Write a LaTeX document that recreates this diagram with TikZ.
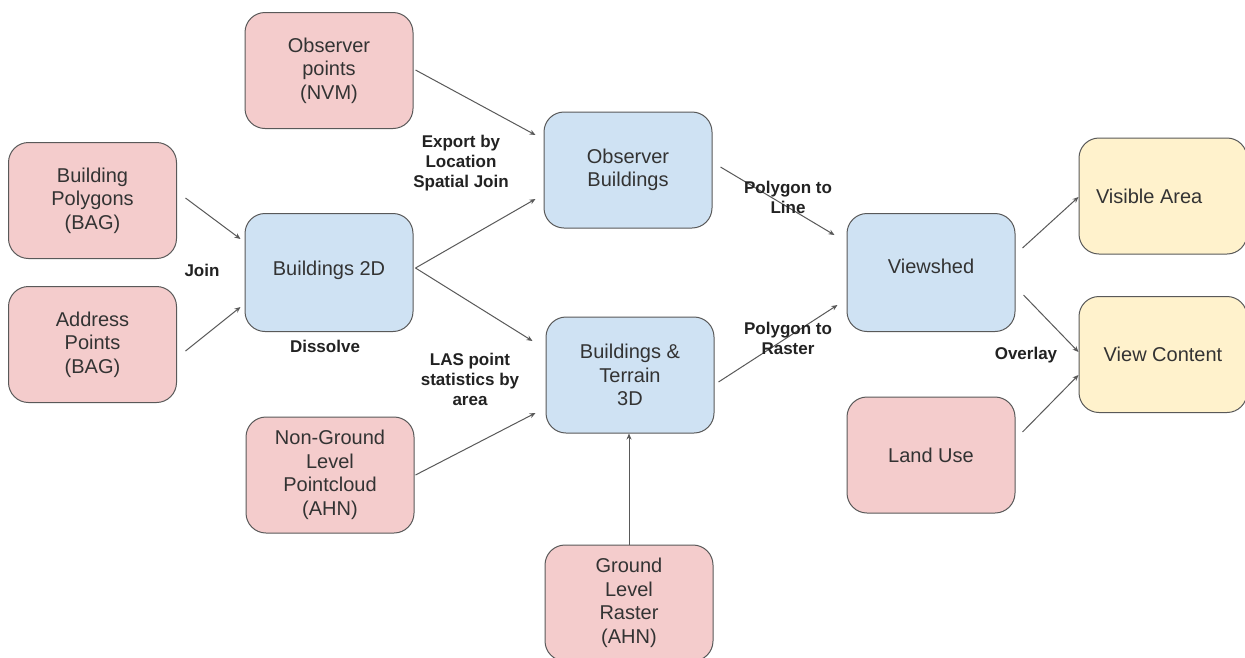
\documentclass[tikz,border=0pt]{standalone}
\usepackage{fontspec}
\setmainfont{Liberation Sans}
\usetikzlibrary{arrows.meta}
\definecolor{pinkf}{HTML}{F4CCCC}
\definecolor{bluef}{HTML}{CFE2F3}
\definecolor{yellowf}{HTML}{FFF2CC}
\definecolor{edgec}{HTML}{595959}
\definecolor{txtc}{HTML}{333333}
\definecolor{lblc}{HTML}{222222}
\begin{document}
\begin{tikzpicture}[x=1pt,y=-1pt,
  basebox/.style={draw=edgec, line width=1pt, rounded corners=20pt,
    minimum width=168pt, minimum height=116pt, align=center,
    font=\fontsize{20}{23.5}\selectfont, text=txtc, inner sep=0pt},
  srcbox/.style={basebox, fill=pinkf},
  procbox/.style={basebox, fill=bluef},
  outbox/.style={basebox, fill=yellowf},
  arr/.style={draw=edgec, line width=1pt, -{Stealth[length=6pt,width=5pt]}},
  lbl/.style={font=\bfseries\fontsize{17}{20}\selectfont, text=lblc, align=center, inner sep=0pt}]
\useasboundingbox (0,0) rectangle (1245,657);
\fill[white] (0,0) rectangle (1245,657);

% nodes
\node[srcbox] (obs) at (329,70.5) {Observer\\points\\(NVM)};
\node[srcbox] (bp) at (92.5,200.5) {Building\\Polygons\\(BAG)};
\node[srcbox] (ap) at (92.5,344.5) {Address\\Points\\(BAG)};
\node[procbox, minimum height=118pt] (b2d) at (329,272.5) {\raisebox{9pt}{Buildings 2D}};
\node[procbox] (obsb) at (628,170) {Observer\\Buildings};
\node[procbox] (bt3d) at (630,375) {Buildings \&\\Terrain\\3D};
\node[srcbox] (ngp) at (330,475) {Non-Ground\\Level\\Pointcloud\\(AHN)};
\node[srcbox] (glr) at (629,603) {Ground\\Level\\Raster\\(AHN)};
\node[procbox, minimum height=118pt] (vs) at (931,272.5) {\raisebox{12pt}{Viewshed}};
\node[srcbox] (lu) at (931,455) {Land Use};
\node[outbox] (va) at (1163,196) {\makebox[134pt][l]{Visible Area}};
\node[outbox] (vc) at (1163,354.5) {View Content};

% connectors
\draw[arr] ([shift={(2,-0.5)}]obs.east) -- ([shift={(-8,-35)}]obsb.west);
\draw[arr] ([shift={(2,-4.5)}]b2d.east) -- ([shift={(-8,29)}]obsb.west);
\draw[arr] ([shift={(8.5,-2.5)}]bp.east) -- ([shift={(-4,-33.5)}]b2d.west);
\draw[arr] ([shift={(8.5,6.5)}]ap.east) -- ([shift={(-4,34.5)}]b2d.west);
\draw[arr] ([shift={(2,-4.5)}]b2d.east) -- ([shift={(-13,-34)}]bt3d.west);
\draw[arr] ([shift={(1,0)}]ngp.east) -- ([shift={(-10,38)}]bt3d.west);
\draw[arr] (glr.north) -- (glr.north |- bt3d.south);
\draw[arr] ([shift={(8,-3)}]obsb.east) -- ([shift={(-12,-37.5)}]vs.west);
\draw[arr] ([shift={(4,7)}]bt3d.east) -- ([shift={(-9,32.5)}]vs.west);
\draw[arr] ([shift={(7,-24.5)}]vs.east) -- ([shift={(0,1)}]va.west);
\draw[arr] ([shift={(8,22.5)}]vs.east) -- ([shift={(0,-2.5)}]vc.west);
\draw[arr] ([shift={(7,-23)}]lu.east) -- ([shift={(0,20.5)}]vc.west);

% labels
\node[lbl] (l1) at (461,163) {Export by\\Location\\Spatial Join};
\node[lbl] (l2) at (202,270) {Join};
\node[lbl] (l3) at (325,346) {Dissolve};
\node[lbl] (l4) at (470,379) {LAS point\\statistics by\\area};
\node[lbl] (l5) at (788,197.5) {Polygon to\\Line};
\node[lbl] (l6) at (788,338.5) {Polygon to\\Raster};
\node[lbl] (l7) at (1026,355) {Overlay};
\end{tikzpicture}
\end{document}
